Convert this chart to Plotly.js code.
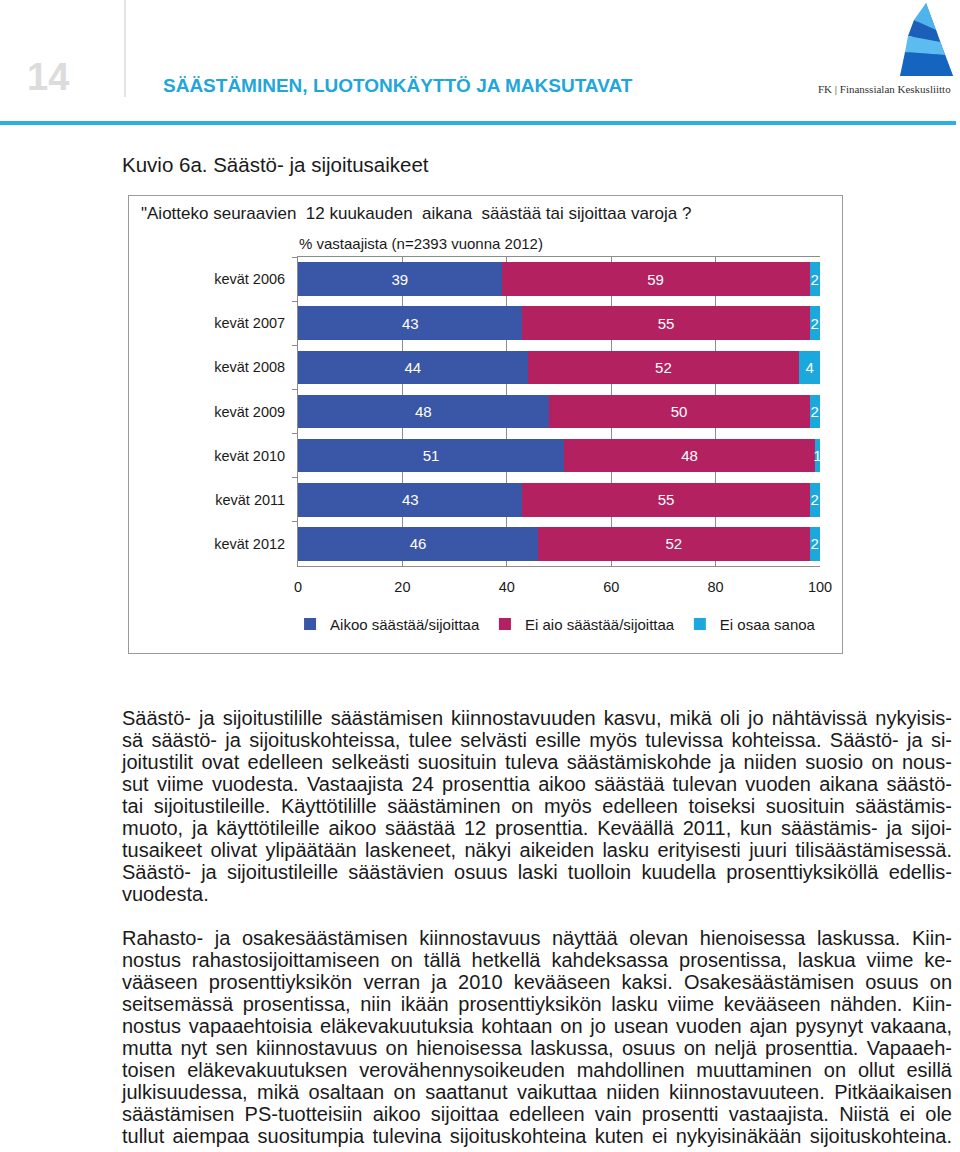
<!DOCTYPE html>
<html>
<head>
<meta charset="utf-8">
<script src="https://cdn.plot.ly/plotly-3.0.1.min.js"></script>
<style>
  body { margin: 0; width: 960px; height: 1152px; background: #fff; position: relative; overflow: hidden;
         font-family: "Liberation Sans", Arial, sans-serif; color: #1a1a1a; }
  .abs { position: absolute; }
  #pageno { left: 27px; top: 56px; font-size: 38px; font-weight: bold; color: #dcdcdc; }
  #vline { left: 124px; top: 0; width: 2px; height: 97px; background: #e3e3e3; }
  #section { left: 163px; top: 75px; font-size: 19px; font-weight: bold; color: #1fa6da; }
  #hline { left: 0; top: 121px; width: 956px; height: 4px; background: #2bb0e0; }
  #logotext { left: 818px; top: 83px; font-family: "Liberation Serif", serif; font-size: 11px; color: #333; }
  #kuvio { left: 122px; top: 153px; font-size: 20.5px; }
  #box { left: 128px; top: 195px; width: 713px; height: 457px; border: 1px solid #9a9a9a; }
  #chart { left: 0; top: 0; width: 713px; height: 457px; }
  .para { left: 122px; width: 830px; font-size: 20px; line-height: 22px; transform-origin: 0 0; }
  .para div { text-align: justify; text-align-last: justify; white-space: nowrap; }
  .para div.last { text-align-last: left; }
</style>
</head>
<body>
<div id="pageno" class="abs">14</div>
<div id="vline" class="abs"></div>
<div id="section" class="abs">SÄÄSTÄMINEN, LUOTONKÄYTTÖ JA MAKSUTAVAT</div>
<svg class="abs" style="left:900px;top:2px" width="56" height="76" viewBox="0 0 56 76">
  <polygon points="26,1 53,74 0,74" fill="#1f8fd6"/>
  <polygon points="26,1 36,28 22,22 14,18" fill="#4fb3ec"/>
  <polygon points="14,18 36,28 40,40 8,34" fill="#1b5fb8"/>
  <polygon points="8,34 40,40 45,53 5,50" fill="#5cbcf0"/>
  <polygon points="5,50 45,53 53,74 0,74" fill="#1565c0"/>
</svg>
<div id="logotext" class="abs">FK | Finanssialan Keskusliitto</div>
<div id="hline" class="abs"></div>
<div id="kuvio" class="abs">Kuvio 6a. Säästö- ja sijoitusaikeet</div>

<div id="box" class="abs"><div id="chart" class="abs"></div></div>

<div class="abs para" style="top:707px">
<div>Säästö- ja sijoitustilille säästämisen kiinnostavuuden kasvu, mikä oli jo nähtävissä nykyisis-</div>
<div>sä säästö- ja sijoituskohteissa, tulee selvästi esille myös tulevissa kohteissa. Säästö- ja si-</div>
<div>joitustilit ovat edelleen selkeästi suosituin tuleva säästämiskohde ja niiden suosio on nous-</div>
<div>sut viime vuodesta. Vastaajista 24 prosenttia aikoo säästää tulevan vuoden aikana säästö-</div>
<div>tai sijoitustileille. Käyttötilille säästäminen on myös edelleen toiseksi suosituin säästämis-</div>
<div>muoto, ja käyttötileille aikoo säästää 12 prosenttia. Keväällä 2011, kun säästämis- ja sijoi-</div>
<div>tusaikeet olivat ylipäätään laskeneet, näkyi aikeiden lasku erityisesti juuri tilisäästämisessä.</div>
<div>Säästö- ja sijoitustileille säästävien osuus laski tuolloin kuudella prosenttiyksiköllä edellis-</div>
<div class="last">vuodesta.</div>
</div>

<div class="abs para" style="top:927px">
<div>Rahasto- ja osakesäästämisen kiinnostavuus näyttää olevan hienoisessa laskussa. Kiin-</div>
<div>nostus rahastosijoittamiseen on tällä hetkellä kahdeksassa prosentissa, laskua viime ke-</div>
<div>vääseen prosenttiyksikön verran ja 2010 kevääseen kaksi. Osakesäästämisen osuus on</div>
<div>seitsemässä prosentissa, niin ikään prosenttiyksikön lasku viime kevääseen nähden. Kiin-</div>
<div>nostus vapaaehtoisia eläkevakuutuksia kohtaan on jo usean vuoden ajan pysynyt vakaana,</div>
<div>mutta nyt sen kiinnostavuus on hienoisessa laskussa, osuus on neljä prosenttia. Vapaaeh-</div>
<div>toisen eläkevakuutuksen verovähennysoikeuden mahdollinen muuttaminen on ollut esillä</div>
<div>julkisuudessa, mikä osaltaan on saattanut vaikuttaa niiden kiinnostavuuteen. Pitkäaikaisen</div>
<div>säästämisen PS-tuotteisiin aikoo sijoittaa edelleen vain prosentti vastaajista. Niistä ei ole</div>
<div>tullut aiempaa suositumpia tulevina sijoituskohteina kuten ei nykyisinäkään sijoituskohteina.</div>
</div>

<script>
// squeeze the body text so that the longest line just fits the 830px column
(function fitParagraphs() {
    var lines = document.querySelectorAll('.para div');
    var probe = document.createElement('span');
    probe.style.cssText = 'position:absolute;visibility:hidden;white-space:nowrap;font-size:20px;';
    document.body.appendChild(probe);
    var widest = 0;
    lines.forEach(function(l) {
        probe.textContent = l.textContent;
        widest = Math.max(widest, probe.getBoundingClientRect().width);
    });
    document.body.removeChild(probe);
    var k = Math.min(1, 826 / widest);
    document.querySelectorAll('.para').forEach(function(p) {
        p.style.width = (830 / k) + 'px';
        p.style.transform = 'scaleX(' + k + ')';
    });
})();

// survey rounds, top to bottom
var periods = ['kevät 2006', 'kevät 2007', 'kevät 2008', 'kevät 2009', 'kevät 2010', 'kevät 2011', 'kevät 2012'];

// shares of respondents, %
var aikoo = [39, 43, 44, 48, 51, 43, 46];
var eiAio = [59, 55, 52, 50, 48, 55, 52];
var eiOsaa = [2, 2, 4, 2, 1, 2, 2];

var xTicks = [0, 20, 40, 60, 80, 100];

var font = {family: 'Liberation Sans, Arial, sans-serif', color: '#1a1a1a', size: 14.5};

function barTrace(vals, name, color) {
    return {
        type: 'bar',
        orientation: 'h',
        y: periods,
        x: vals,
        name: name,
        text: vals.map(String),
        textposition: 'inside',
        insidetextanchor: 'middle',
        constraintext: 'none',
        cliponaxis: false,
        textfont: {family: font.family, color: '#ffffff', size: 15},
        marker: {color: color, line: {width: 0}},
        hoverinfo: 'skip'
    };
}

var data = [
    barTrace(aikoo, 'Aikoo säästää/sijoittaa', '#3a56a6'),
    barTrace(eiAio, 'Ei aio säästää/sijoittaa', '#b42160'),
    barTrace(eiOsaa, 'Ei osaa sanoa', '#1ba8dc')
];

var layout = {
    barmode: 'stack',
    bargap: 0.24,
    width: 713,
    height: 457,
    margin: {l: 169, r: 22, t: 61, b: 76},
    paper_bgcolor: 'rgba(0,0,0,0)',
    plot_bgcolor: '#ffffff',
    font: font,
    showlegend: true,
    legend: {
        orientation: 'h',
        x: 1.002, xanchor: 'right',
        y: -0.135, yanchor: 'top',
        font: {family: font.family, color: '#1a1a1a', size: 15},
        itemwidth: 30,
        traceorder: 'normal'
    },
    xaxis: {
        range: [0, 100],
        tickvals: xTicks,
        ticktext: xTicks.map(String),
        showgrid: true,
        gridcolor: '#8c8c8c',
        gridwidth: 1,
        zeroline: false,
        showline: true,
        mirror: true,
        linecolor: '#8c8c8c',
        ticks: '',
        ticklabelstandoff: 8,
        fixedrange: true
    },
    yaxis: {
        autorange: 'reversed',
        type: 'category',
        showline: true,
        linecolor: '#8c8c8c',
        ticks: 'outside',
        tickson: 'boundaries',
        ticklen: 5,
        tickcolor: '#8c8c8c',
        ticklabelstandoff: 9,
        showgrid: false,
        fixedrange: true
    },
    annotations: [
        {
            text: '"Aiotteko seuraavien\u00a0 12 kuukauden\u00a0 aikana\u00a0 säästää tai sijoittaa varoja ?',
            xref: 'paper', yref: 'paper', x: -0.305, y: 1.0, yshift: 44,
            xanchor: 'left', yanchor: 'middle', showarrow: false,
            font: {family: font.family, color: '#1a1a1a', size: 17}
        },
        {
            text: '% vastaajista (n=2393 vuonna 2012)',
            xref: 'paper', yref: 'paper', x: -0.002, y: 1.0, yshift: 14,
            xanchor: 'left', yanchor: 'middle', showarrow: false,
            font: {family: font.family, color: '#1a1a1a', size: 15}
        }
    ]
};

Plotly.newPlot('chart', data, layout, {displayModeBar: false, responsive: false});
</script>
</body>
</html>
